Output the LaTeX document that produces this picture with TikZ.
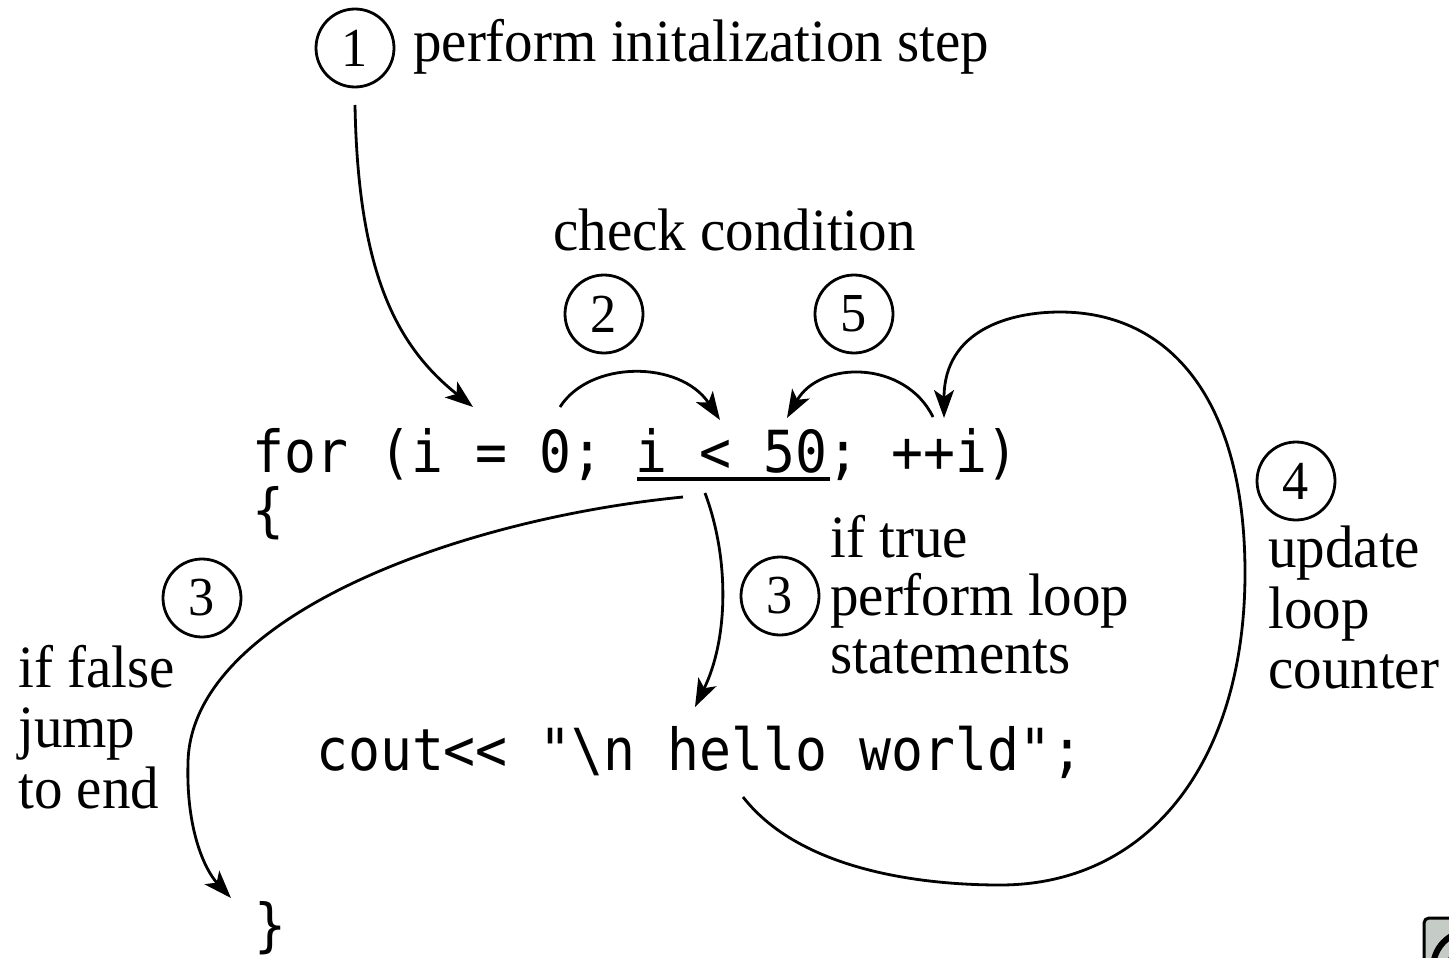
\documentclass[tikz,border=0pt]{standalone}
\usepackage{fontspec}
\usetikzlibrary{arrows.meta}
\newfontfamily\lblfont[FakeStretch=0.95]{Liberation Serif}
\newfontfamily\codefont[FakeStretch=0.915]{DejaVu Sans Mono}
\definecolor{iconfill}{RGB}{197,203,197}

\begin{document}
\begin{tikzpicture}[x=1pt,y=-1pt,
  lbl/.style={font=\lblfont\fontsize{60}{60}\selectfont, anchor=base west, inner sep=0pt},
  code/.style={font=\codefont\fontsize{58}{58}\selectfont, anchor=base west, inner sep=0pt},
  num/.style={draw, circle, line width=2.8pt, minimum size=78pt, inner sep=0pt,
              font=\lblfont\fontsize{55}{55}\selectfont},
  flow/.style={line width=2.8pt, -{Stealth[length=28pt,width=20pt,inset=7pt]}},
  rule/.style={line width=3.2pt}
]
% canvas
\fill[white] (0,0) rectangle (1449,958);
\useasboundingbox (0,0) rectangle (1449,958);

% step markers
\node[num] (n1) at (355,48) {1};
\node[num] (n2) at (604,314) {2};
\node[num] (n5) at (854,314) {5};
\node[num] (n3t) at (780,596) {3};
\node[num] (n3f) at (202,598) {3};
\node[num] (n4) at (1296,481) {4};

% explanations
\node[lbl] (init) at (413,62) {perform initalization step};
\node[lbl] (check) at (553,250) {check condition};
\node[lbl] (true1) at (830,557) {if true};
\node[lbl] (true2) at (830,615) {perform loop};
\node[lbl] (true3) at (830,673) {statements};
\node[lbl] (upd1) at (1268,567) {update};
\node[lbl] (upd2) at (1268,628) {loop};
\node[lbl] (upd3) at (1268,688) {counter};
\node[lbl] (false1) at (18,687) {if false};
\node[lbl] (false2) at (18,747) {jump};
\node[lbl] (false3) at (18,808) {to end};

% the loop source
\node[code] (forline) at (252,472) {for (i = 0; i < 50; ++i)};
\node[code] (open) at (252,530) {\{};
\node[code] (body) at (316,770) {cout<< "\textbackslash n hello world";};
\node[code] (close) at (254,945) {\}};
\coordinate (ulA) at (637,479);
\coordinate (ulB) at (830,479);
\draw[rule] (ulA) -- (ulB);

% connector end points
\coordinate (initS) at (355,105);
\coordinate (initE) at (473,407);
\coordinate (chkS) at (560,407);
\coordinate (chkE) at (720,420);
\coordinate (incS) at (933,417);
\coordinate (incE) at (787,418);
\coordinate (tS) at (705,493);
\coordinate (tE) at (695,707);
\coordinate (fS) at (683,497);
\coordinate (fM) at (188,763);
\coordinate (fE) at (231,898);
\coordinate (bS) at (743,797);
\coordinate (bB) at (1000,885);
\coordinate (bR) at (1245,573);
\coordinate (bT) at (1060,312);
\coordinate (bE) at (944,418);

% 1: initialisation
\draw[flow] (initS) .. controls (358,270) and (395,345) .. (initE);
% 2: condition check
\draw[flow] (chkS) .. controls (590,360) and (680,360) .. (chkE);
% 5: back to the condition
\draw[flow] (incS) .. controls (905,360) and (820,360) .. (incE);
% 3: true branch
\draw[flow] (tS) .. controls (730,560) and (728,640) .. (tE);
% 3: false branch
\draw[flow] (fS) .. controls (450,520) and (190,620) .. (fM)
               .. controls (186,830) and (205,870) .. (fE);
% 4: update loop counter
\draw[flow] (bS) .. controls (800,870) and (920,885) .. (bB)
                 .. controls (1150,885) and (1245,760) .. (bR)
                 .. controls (1245,400) and (1170,312) .. (bT)
                 .. controls (1010,312) and (944,330) .. (bE);

% corner badge
\begin{scope}
  \clip (0,0) rectangle (1449,958);
  \draw[line width=3pt, fill=iconfill, rounded corners=5pt] (1424,918) rectangle (1490,1010);
  \draw[line width=6pt] (1470,968) ++(165:37) arc[start angle=165, end angle=250, radius=37];
  \draw[line width=4pt] (1470,968) ++(170:22) arc[start angle=170, end angle=250, radius=22];
\end{scope}
\end{tikzpicture}
\end{document}
